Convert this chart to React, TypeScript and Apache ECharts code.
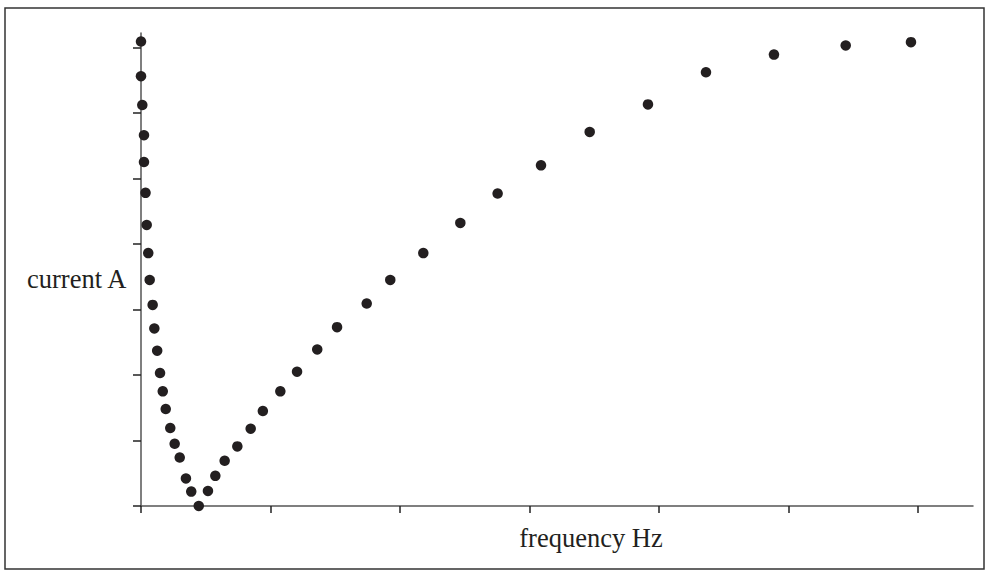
import React, { useEffect, useRef } from "react";
import * as echarts from "echarts";

// frequency (axis units, one unit per tick) and current (axis units)
const frequency = [
  0.0, 0.0, 0.01, 0.023, 0.023, 0.035, 0.044, 0.056, 0.067, 0.09, 0.103, 0.125, 0.147, 0.168,
  0.191, 0.226, 0.26, 0.299, 0.347, 0.388, 0.446, 0.517, 0.574, 0.646, 0.744, 0.847, 0.941,
  1.076, 1.205, 1.361, 1.514, 1.743, 1.925, 2.18, 2.466, 2.754, 3.089, 3.465, 3.915, 4.363,
  4.888, 5.442, 5.946,
];
const current = [
  7.09, 6.56, 6.12, 5.66, 5.25, 4.78, 4.29, 3.86, 3.45, 3.07, 2.71, 2.37, 2.03, 1.75, 1.48,
  1.19, 0.95, 0.74, 0.42, 0.22, 0.0, 0.23, 0.46, 0.69, 0.91, 1.18, 1.45, 1.75, 2.05, 2.39,
  2.73, 3.09, 3.45, 3.86, 4.32, 4.77, 5.2, 5.71, 6.13, 6.62, 6.89, 7.03, 7.08,
];
const xTicks = [0, 1, 2, 3, 4, 5, 6];
const yTicks = [0, 1, 2, 3, 4, 5, 6, 7];
const xName = "frequency Hz";
const yName = "current A";

export default function App() {
  const ref = useRef<HTMLDivElement>(null);
  useEffect(() => {
    if (!ref.current) return;
    const chart = echarts.init(ref.current, null, { renderer: "svg" });
    const font = "'Liberation Serif', 'Times New Roman', serif";
    chart.setOption({
      animation: false,
      backgroundColor: "#ffffff",
      grid: { left: 141, right: 16, top: 33, bottom: 69 },
      xAxis: {
        type: "value",
        min: 0,
        max: 6.425,
        axisLine: { show: true, lineStyle: { color: "#555555", width: 1.5 } },
        axisTick: {
          show: true,
          customValues: xTicks,
          length: 7,
          lineStyle: { color: "#222222", width: 1.5 },
        },
        axisLabel: { show: false },
        splitLine: { show: false },
      },
      yAxis: {
        type: "value",
        min: 0,
        max: 7.22,
        axisLine: { show: true, lineStyle: { color: "#555555", width: 1.5 } },
        axisTick: {
          show: true,
          customValues: yTicks,
          length: 8,
          lineStyle: { color: "#222222", width: 1.5 },
        },
        axisLabel: { show: false },
        splitLine: { show: false },
      },
      graphic: [
        {
          type: "rect",
          shape: { x: 5, y: 8, width: 979, height: 561 },
          style: { fill: "none", stroke: "#333333", lineWidth: 1.5 },
          silent: true,
        },
        {
          type: "text",
          x: 27,
          y: 279,
          style: {
            text: yName,
            font: `26.5px ${font}`,
            fill: "#231f20",
            textVerticalAlign: "middle",
          },
        },
        {
          type: "text",
          x: 591,
          y: 538,
          style: {
            text: xName,
            font: `26.5px ${font}`,
            fill: "#231f20",
            textAlign: "center",
            textVerticalAlign: "middle",
          },
        },
      ],
      series: [
        {
          type: "scatter",
          symbol: "circle",
          symbolSize: 10.5,
          clip: false,
          itemStyle: { color: "#231f20", opacity: 1 },
          data: frequency.map((f, i) => [f, current[i]]),
        },
      ],
    });
    return () => chart.dispose();
  }, []);
  return (
    <div
      ref={ref}
      style={{ position: "fixed", left: 0, top: 0, width: 989, height: 575 }}
    />
  );
}
